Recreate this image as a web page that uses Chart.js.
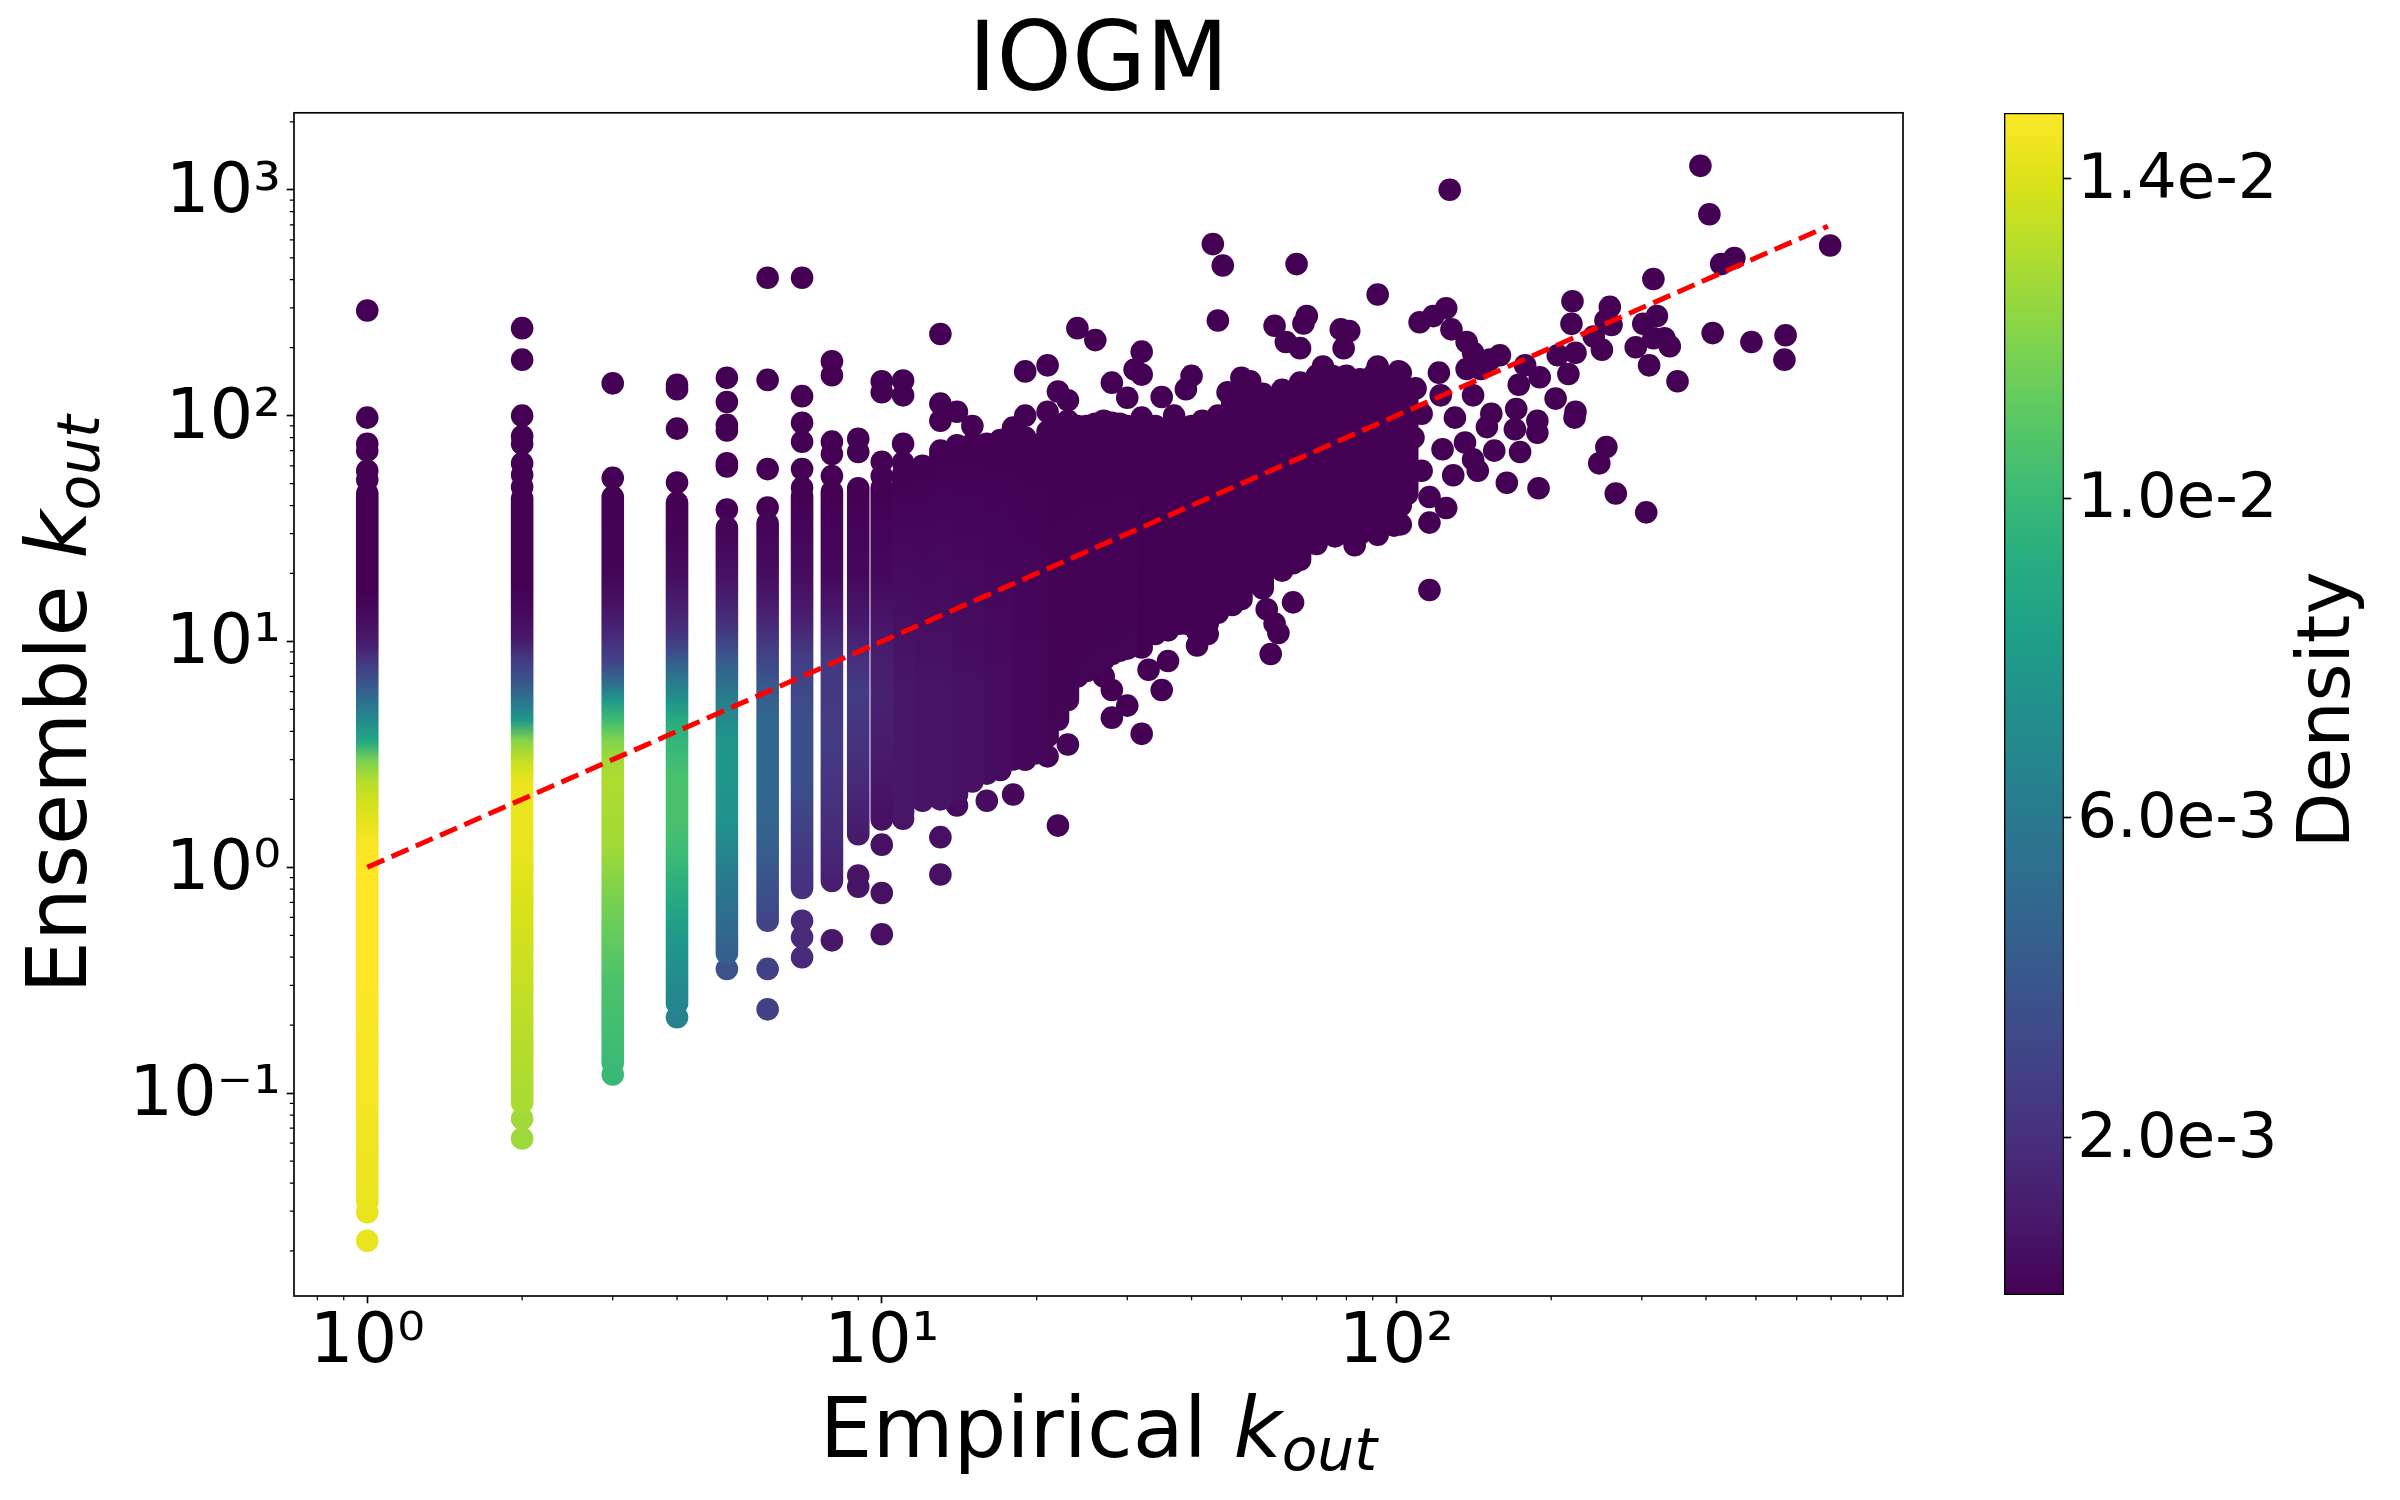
<!DOCTYPE html>
<html>
<head>
<meta charset="utf-8">
<script src="https://cdn.jsdelivr.net/npm/chart.js@4.4.1/dist/chart.umd.min.js"></script>
<style>
html,body{margin:0;padding:0;background:#ffffff;}
#wrap{position:relative;width:2400px;height:1500px;overflow:hidden;}
#wrap canvas{position:absolute;left:0;top:0;}
</style>
</head>
<body>
<div id="wrap">
<canvas id="main" width="2400" height="1500"></canvas>
<canvas id="cbar" width="2400" height="1500"></canvas>
</div>
<script>
// ---------------- data ----------------
const chartTitle = 'IOGM';
const xTitleMain = 'Empirical ', yTitleMain = 'Ensemble ', titleVar = 'k', titleSub = 'out';
const densityTitle = 'Density';

const xRange = [0.7205, 965.6];
const yRange = [0.01264, 2193];
const xTickValues = [1, 10, 100];
const xTickLabels = ['10\u2070', '10\u00B9', '10\u00B2'];
const yTickValues = [0.1, 1, 10, 100, 1000];
const yTickLabels = ['10\u207B\u00B9', '10\u2070', '10\u00B9', '10\u00B2', '10\u00B3'];

const densityMin = 0.000026, densityMax = 0.01482;
const densityTicks = [0.002, 0.006, 0.010, 0.014];
const densityTickLabels = ['2.0e-3', '6.0e-3', '1.0e-2', '1.4e-2'];

// identity reference line (Empirical = Ensemble)
const refLineX = [1, 690];

// dense vertical strips of overlapping points: x value, y stops (first = lowest, last = highest), density at each stop
const stripK = [1,2,3,4,5,6,7,8,9,10,
  11,12,13,14,15,16,17,18,19,20,21,22,23,24,25,26,27,28,29,30,
  32,34,36,38,40,42,45,48,50,55,60,65,70,75,80,85,90,95,100,105];
const stripY = [
  [0.033,0.1,0.3,1.0,1.3,1.58,1.94,2.39,2.95,3.6,4.5,5.5,6.8,8.3,9.6,13.9,17,45.2],
  [0.091,0.13,0.3,0.69,1.28,2.39,2.95,3.62,4.47,5.49,6.76,8.3,10.4,13.9,18,43],
  [0.136,0.3,0.69,1.28,2.4,2.95,3.62,4.47,5.49,6.76,8.3,10.4,13.9,20,43.6],
  [0.25,0.45,0.69,1.04,1.6,2.4,3.6,4.5,5.5,6.8,8.3,9.6,11.5,13.9,20,29,41.2],
  [0.416,0.85,1.58,2.4,3.6,5.5,7.75,9.6,11.5,13.9,20,31.9],
  [0.58,0.69,1.28,1.9,4.5,6.5,8.3,11.5,13.9,20,33.3],
  [0.81,1.28,2.4,4.5,8.3,11.5,13.9,20,44],
  [0.87,1.04,2,3.6,8.3,11.5,13.9,20,46],
  [1.4,2,4,6,8.3,11.5,20,47.7],
  [1.63,3,6,10,20,48],
  [1.75,6,55],[2.0,6,60],[2.0,6,70],[2.1,6,74],[2.4,6,75],[2.6,6,75],[2.8,6,78],[3.0,6,88],[3.0,6,80],[3.2,6,74],
  [3.8,85],[4.5,91],[5.5,95],[7.0,90],[7.4,90],[7.8,92],[8.3,95],[8.8,93],[9.1,92],[9.3,90],
  [10,98],[10.8,90],[11.2,85],[12,88],[12.5,90],[13,95],[13.4,100],[14.5,115],[15.4,115],[17.2,125],
  [20.6,130],[23,140],[27,150],[30,150],[30,150],[30,145],[32,150],[33,140],[40,135],[45,125]
];
const stripD = [
  [0.01438,0.0146,0.01482,0.01482,0.01467,0.01423,0.01378,0.01319,0.01186,0.0089,0.00698,0.00535,0.00358,0.00225,0.00121,0.00032,0.00003,0.00003],
  [0.0129,0.01304,0.01349,0.01393,0.01438,0.01438,0.01349,0.01216,0.00787,0.00565,0.00373,0.00254,0.00091,0.00032,0.00003,0.00003],
  [0.01009,0.01053,0.01171,0.01275,0.01297,0.01275,0.01201,0.01023,0.00787,0.0049,0.00284,0.0018,0.00077,0.00017,0.00003],
  [0.00668,0.00772,0.0089,0.00986,0.01053,0.01053,0.00979,0.00905,0.0074,0.00594,0.00417,0.00284,0.00188,0.00136,0.00047,0.00017,0.00003],
  [0.00446,0.00594,0.0074,0.00772,0.00772,0.00624,0.00461,0.00328,0.00225,0.00151,0.00062,0.00017],
  [0.00299,0.00343,0.00446,0.0049,0.0049,0.00402,0.00313,0.0018,0.00121,0.00047,0.00017],
  [0.0021,0.00254,0.00358,0.00358,0.00269,0.00151,0.00106,0.00047,0.00003],
  [0.00121,0.00151,0.0021,0.00254,0.0024,0.00136,0.00091,0.00032,0.00003],
  [0.00106,0.00151,0.00225,0.00254,0.00195,0.00106,0.00032,0.00003],
  [0.00062,0.00106,0.00136,0.00106,0.00032,0.00003],
  [0.00091,0.00091,0.00003],[0.00077,0.00077,0.00003],[0.00077,0.00077,0.00003],[0.00062,0.00062,0.00003],[0.00062,0.00062,0.00003],
  [0.00047,0.00047,0.00003],[0.00047,0.00047,0.00003],[0.00032,0.00032,0.00003],[0.00032,0.00032,0.00003],[0.00032,0.00032,0.00003],
  [0.00017,0.00003],[0.00017,0.00003],[0.00017,0.00003],[0.00017,0.00003],[0.00017,0.00003],
  [0.00017,0.00003],[0.00017,0.00003],[0.00017,0.00003],[0.00017,0.00003],[0.00017,0.00003],
  [0.00003,0.00003],[0.00003,0.00003],[0.00003,0.00003],[0.00003,0.00003],[0.00003,0.00003],[0.00003,0.00003],
  [0.00003,0.00003],[0.00003,0.00003],[0.00003,0.00003],[0.00003,0.00003],[0.00003,0.00003],[0.00003,0.00003],
  [0.00003,0.00003],[0.00003,0.00003],[0.00003,0.00003],[0.00003,0.00003],[0.00003,0.00003],[0.00003,0.00003],
  [0.00003,0.00003],[0.00003,0.00003]
];

// individual points with a visible density colour (empirical k_out, ensemble k_out, density)
const dotK = [1,1, 2,2, 3, 4, 5, 6,6, 7,7,7, 8, 9,9, 10,10,10,
  11,12,13,13,14,16,18,15,17,19,20,21,22,22,23];
const dotY = [0.0222,0.0297, 0.063,0.077, 0.121, 0.217, 0.355, 0.235,0.355, 0.40,0.49,0.58, 0.475, 0.82,0.92, 0.505,0.77,1.26,
  1.64,1.97,1.36,0.93,1.88,1.97,2.1,2.6,2.7,3.0,4.3,3.1,1.53,5.8,3.5];
const dotD = [0.0143,0.0143, 0.0126,0.01268, 0.00994, 0.00654, 0.00373, 0.00284,0.00284, 0.0018,0.0018,0.0018, 0.00091, 0.00077,0.00077,
  0.00062,0.00062,0.00062,
  0.00077,0.00062,0.00062,0.00062,0.00047,0.00047,0.00032,0.00032,0.00032,0.00017,0.00017,0.00017,0.00017,0.00017,0.00017];

// sparse outlying points, all at the lowest density of the colour bar
const outlierDensity = 0.00003;
const outK = [
  1,1,1,1,1,1, 2,2,2,2,2,2,2,2, 3,3, 4,4,4,4, 5,5,5,5,5,5,5, 6,6,6,6, 7,7,7,7,7,7, 8,8,8,8,8, 9,9, 10,10,10,10,
  24,27,28,28,30,32,32,33,35,36,39,41,41,43,43,56,58,59,57,63,63,76,83,92,99,
  11,11,11,11,13,13,13,14,15,18,19,19,21,21,22,23,24,26,28,30,31,32,32,35,37,39,40,44,45,46,47,50,51,52,58,61,64,65,66,67,72,78,79,81,92,92,101,
  111,118,125,127,128,137,141,159,137,121,102,109,122,141,178,190,173,204,216,223,206,223,222,188,188,171,153,150,170,174,155,144,129,164,189,125,116,116,116,102,102,256,248,267,306,112,130,108,123,102,112,136,141,152,146,
  220,219,260,255,262,242,251,321,302,292,316,332,340,310,352,412,490,571,568,316,390,406,454,428,697
];
const outY = [
  52,57,70,75,98,292, 48.3,54.8,61.5,75,81,100,177,244, 53,139, 50.6,87.6,131,137, 38.4,59.6,61.5,86,91,115,147, 39.2,58,144,408,
  48,58,76.7,93,122,408, 54,67.6,76.7,151,174, 69,79, 54,62.5,127,142,
  7.8,7,6.1,4.6,5.2,3.9,9.4,7.5,6.1,8.2,12,11.1,9.6,12,10.8,13.9,12,10.9,8.8,14.9,22.2,29.2,26.7,29.7,32.6,
  143,123,75,62,230,113,95,104,90,88.5,157,100,167,104,128,117,244,216,140,120,160,192,152,121,100,131,150,575,264,462,127,147,131,142,250,212,469,199,256,276,165,241,199,237,344,165,157,
  259,276,299,1000,241,212,190,185,161,155,155,132,123,123,167,148,137,119,153,190,185,104,98,95,84,107,102,89,87,69,70,57,54.5,50.4,47.7,39,43.6,33.6,16.9,40,33,72.6,61.5,45.2,37.3,102,98,80,71,64,57,76,64,177,161,
  321,255,303,264,252,224,196,276,255,201,220,220,203,167,142,232,212,227,177,403,1277,780,499,469,567
];

// ---------------- styling helpers ----------------
const FONT = '"DejaVu Sans", "Liberation Sans", sans-serif';
Chart.defaults.font.family = FONT;
Chart.defaults.color = '#000000';
const VIRIDIS = ['#440154','#48186a','#472d7b','#424086','#3b528b','#33638d','#2c728e','#26828e','#21918c',
  '#1fa088','#28ae80','#3fbc73','#5ec962','#84d44b','#addc30','#d8e219','#fde725'];
const VIR_RGB = VIRIDIS.map(h => [parseInt(h.slice(1,3),16), parseInt(h.slice(3,5),16), parseInt(h.slice(5,7),16)]);
function viridisAt(t) {
  t = Math.max(0, Math.min(1, t));
  const n = VIR_RGB.length - 1, f = t * n, i = Math.min(n - 1, Math.floor(f)), u = f - i;
  const a = VIR_RGB[i], b = VIR_RGB[i + 1];
  return 'rgb(' + Math.round(a[0] + (b[0]-a[0])*u) + ',' + Math.round(a[1] + (b[1]-a[1])*u) + ',' + Math.round(a[2] + (b[2]-a[2])*u) + ')';
}
function densityColor(d) { return viridisAt((d - densityMin) / (densityMax - densityMin)); }

const DOT_R = 11.3;

function stripColor(i) {
  return (ctx) => {
    const chart = ctx.chart, ys = chart.scales ? chart.scales.y : null;
    const Y = stripY[i], D = stripD[i];
    if (!ys || !chart.chartArea) return densityColor(D[0]);
    const p0 = ys.getPixelForValue(Y[0]), p1 = ys.getPixelForValue(Y[Y.length - 1]);
    if (Math.abs(p1 - p0) < 1) return densityColor(D[0]);
    const g = chart.ctx.createLinearGradient(0, p0, 0, p1);
    Y.forEach((v, j) => {
      const f = (ys.getPixelForValue(v) - p0) / (p1 - p0);
      g.addColorStop(Math.max(0, Math.min(1, f)), densityColor(D[j]));
    });
    return g;
  };
}

// ---------------- datasets ----------------
const datasets = [];
datasets.push({
  label: 'Empirical = Ensemble',
  data: refLineX.map(v => ({x: v, y: v})),
  showLine: true, fill: false, borderColor: '#ff0000', borderWidth: 5, borderDash: [18.5, 8],
  borderCapStyle: 'butt', pointRadius: 0, pointHoverRadius: 0, order: 0
});
stripK.forEach((k, i) => {
  datasets.push({
    label: 'k=' + k,
    data: stripY[i].map(v => ({x: k, y: v})),
    showLine: true, fill: false, tension: 0,
    borderColor: stripColor(i), borderWidth: DOT_R * 2,
    borderCapStyle: 'round', borderJoinStyle: 'round',
    pointRadius: 0, pointHoverRadius: 0, order: 1
  });
});
datasets.push({
  label: 'coloured points',
  data: dotK.map((k, i) => ({x: k, y: dotY[i]})),
  showLine: false,
  pointRadius: DOT_R, pointHoverRadius: DOT_R, pointBorderWidth: 0,
  pointBackgroundColor: dotD.map(densityColor), pointBorderColor: 'rgba(0,0,0,0)',
  order: 2
});
datasets.push({
  label: 'outlying points',
  data: outK.map((k, i) => ({x: k, y: outY[i]})),
  showLine: false,
  pointRadius: DOT_R, pointHoverRadius: DOT_R, pointBorderWidth: 0,
  pointBackgroundColor: densityColor(outlierDensity), pointBorderColor: 'rgba(0,0,0,0)',
  order: 3
});

// ---------------- plugins ----------------
const framePlugin = {
  id: 'frame',
  afterDatasetsDraw(chart) {
    const {ctx, chartArea: a} = chart;
    ctx.save();
    ctx.strokeStyle = '#000000'; ctx.lineWidth = 1.67;
    ctx.strokeRect(a.left, a.top, a.right - a.left, a.bottom - a.top);
    ctx.restore();
  }
};
const minorTickPlugin = {
  id: 'minorTicks',
  afterDraw(chart) {
    const {ctx, chartArea: a, scales: {x, y}} = chart;
    ctx.save();
    ctx.strokeStyle = '#000000'; ctx.lineWidth = 1.25;
    ctx.beginPath();
    for (let e = -3; e <= 4; e++) {
      for (let m = 2; m <= 9; m++) {
        const v = m * Math.pow(10, e);
        if (v > x.min && v < x.max) {
          const px = x.getPixelForValue(v);
          ctx.moveTo(px, a.bottom); ctx.lineTo(px, a.bottom + 4.2);
        }
        if (v > y.min && v < y.max) {
          const py = y.getPixelForValue(v);
          ctx.moveTo(a.left, py); ctx.lineTo(a.left - 4.2, py);
        }
      }
    }
    ctx.stroke();
    ctx.restore();
  }
};
function drawRich(ctx, parts, cx, baseline) {
  let total = 0;
  parts.forEach(p => { ctx.font = p.font; p.w = ctx.measureText(p.text).width; total += p.w; });
  let x = cx - total / 2;
  ctx.textAlign = 'left'; ctx.textBaseline = 'alphabetic';
  parts.forEach(p => { ctx.font = p.font; ctx.fillText(p.text, x, baseline + p.dy); x += p.w; });
}
const axisTitlePlugin = {
  id: 'axisTitles',
  afterDraw(chart) {
    const {ctx, chartArea: a} = chart;
    const main = '83.3px ' + FONT, ital = 'italic 83.3px ' + FONT, sub = 'italic 58.3px ' + FONT;
    ctx.save();
    ctx.fillStyle = '#000000';
    drawRich(ctx, [
      {text: xTitleMain, font: main, dy: 0},
      {text: titleVar, font: ital, dy: 0},
      {text: titleSub, font: sub, dy: 13.5}
    ], (a.left + a.right) / 2, a.bottom + 160.7);
    ctx.translate(a.left - 208.3, (a.top + a.bottom) / 2);
    ctx.rotate(-Math.PI / 2);
    drawRich(ctx, [
      {text: yTitleMain, font: main, dy: 0},
      {text: titleVar, font: ital, dy: 0},
      {text: titleSub, font: sub, dy: 13.5}
    ], 0, 0);
    ctx.restore();
  }
};

// ---------------- main chart ----------------
new Chart(document.getElementById('main'), {
  type: 'scatter',
  data: {datasets},
  options: {
    responsive: false, animation: false, events: [], devicePixelRatio: 1,
    layout: {padding: {left: 0, right: 497, top: 0, bottom: 0}},
    plugins: {
      legend: {display: false}, tooltip: {enabled: false},
      title: {display: true, text: chartTitle, fullSize: false, color: '#000000',
        font: {family: FONT, size: 95.8, weight: 'normal', lineHeight: 1.0},
        padding: {top: 17, bottom: 0}}
    },
    scales: {
      x: {
        type: 'logarithmic', position: 'bottom', min: xRange[0], max: xRange[1], bounds: 'data',
        afterBuildTicks: s => { s.ticks = xTickValues.map(v => ({value: v})); },
        afterFit: s => { s.height = 204; },
        ticks: {autoSkip: false, maxRotation: 0, minRotation: 0, padding: 0, color: '#000000',
          font: {family: FONT, size: 68.75}, callback: (v, i) => xTickLabels[i]},
        grid: {display: true, drawOnChartArea: false, drawTicks: true, tickLength: 7.3, tickWidth: 1.67, tickColor: '#000000'},
        border: {display: false}
      },
      y: {
        type: 'logarithmic', position: 'left', min: yRange[0], max: yRange[1], bounds: 'data',
        afterBuildTicks: s => { s.ticks = yTickValues.map(v => ({value: v})); },
        afterFit: s => { s.width = 294; },
        ticks: {autoSkip: false, padding: 6, labelOffset: 4, color: '#000000',
          font: {family: FONT, size: 68.75}, callback: (v, i) => yTickLabels[i]},
        grid: {display: true, drawOnChartArea: false, drawTicks: true, tickLength: 7.3, tickWidth: 1.67, tickColor: '#000000'},
        border: {display: false}
      }
    }
  },
  plugins: [framePlugin, minorTickPlugin, axisTitlePlugin]
});

// ---------------- colour bar ----------------
const densityLabelPlugin = {
  id: 'densityLabel',
  afterDraw(chart) {
    const {ctx, chartArea: a} = chart;
    ctx.save();
    ctx.fillStyle = '#000000';
    ctx.font = '72.9px ' + FONT;
    ctx.translate(a.right + 285.3, (a.top + a.bottom) / 2 + 6);
    ctx.rotate(-Math.PI / 2);
    ctx.textAlign = 'center'; ctx.textBaseline = 'alphabetic';
    ctx.fillText(densityTitle, 0, 0);
    ctx.restore();
  }
};
new Chart(document.getElementById('cbar'), {
  type: 'bar',
  data: {
    labels: [densityTitle],
    datasets: [{
      data: [[densityMin, densityMax]],
      backgroundColor: (ctx) => {
        const a = ctx.chart.chartArea;
        if (!a) return VIRIDIS[8];
        const ys = ctx.chart.scales.y;
        const g = ctx.chart.ctx.createLinearGradient(0, ys.getPixelForValue(densityMin), 0, ys.getPixelForValue(densityMax));
        VIRIDIS.forEach((c, i) => g.addColorStop(i / (VIRIDIS.length - 1), c));
        return g;
      },
      borderColor: '#000000', borderWidth: 1.67, borderSkipped: false,
      barPercentage: 1, categoryPercentage: 1
    }]
  },
  options: {
    responsive: false, animation: false, events: [], devicePixelRatio: 1,
    layout: {padding: {left: 2004, right: 96, top: 113, bottom: 205}},
    plugins: {legend: {display: false}, tooltip: {enabled: false}, title: {display: false}},
    scales: {
      x: {display: false, offset: true},
      y: {
        type: 'linear', position: 'right', min: densityMin, max: densityMax, bounds: 'data',
        afterBuildTicks: s => { s.ticks = densityTicks.map(v => ({value: v})); },
        afterFit: s => { s.width = 240; },
        ticks: {autoSkip: false, padding: 6, labelOffset: 3, color: '#000000',
          font: {family: FONT, size: 62.5}, callback: (v, i) => densityTickLabels[i]},
        grid: {display: true, drawOnChartArea: false, drawTicks: true, tickLength: 7.3, tickWidth: 1.67, tickColor: '#000000'},
        border: {display: false}
      }
    }
  },
  plugins: [densityLabelPlugin]
});
</script>
</body>
</html>
